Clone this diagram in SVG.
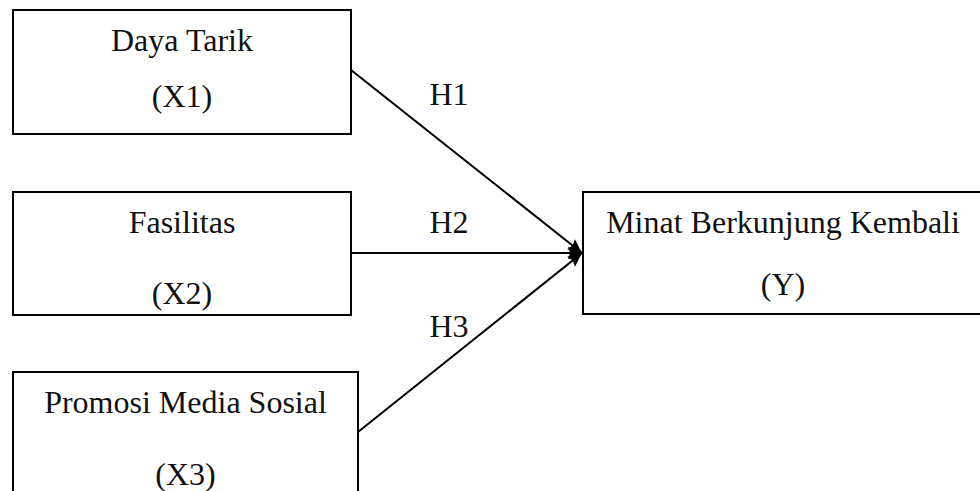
<svg xmlns="http://www.w3.org/2000/svg" width="980" height="491" viewBox="0 0 980 491">
<style>
.box{fill:#fff;stroke:#000;stroke-width:2}
.t{font-family:"Liberation Serif","Times New Roman",serif;font-size:32px;fill:#111;text-anchor:middle}
.lbl{font-family:"Liberation Serif","Times New Roman",serif;font-size:32px;fill:#111;text-anchor:middle}
.edge{stroke:#000;stroke-width:2;fill:none;marker-end:url(#ah)}
</style>
<defs>
<marker id="ah" viewBox="0 0 10 10" refX="10" refY="5" markerWidth="8" markerHeight="7" markerUnits="strokeWidth" orient="auto">
<path d="M0,0.5 L10,5 L0,9.5 L1.5,5 z" fill="#000"/>
</marker>
</defs>
<rect width="980" height="491" fill="#fff"/>
<g id="x1">
<rect class="box" x="13" y="10" width="338" height="124"/>
<text class="t" x="182" y="51">Daya Tarik</text>
<text class="t" x="182" y="107">(X1)</text>
</g>
<g id="x2">
<rect class="box" x="13" y="192" width="338" height="123"/>
<text class="t" x="182" y="233">Fasilitas</text>
<text class="t" x="182" y="304">(X2)</text>
</g>
<g id="x3">
<rect class="box" x="13" y="372" width="345" height="130"/>
<text class="t" x="185.5" y="413">Promosi Media Sosial</text>
<text class="t" x="185.5" y="485">(X3)</text>
</g>
<g id="y">
<rect class="box" x="583" y="192" width="400" height="122"/>
<text class="t" x="783" y="233">Minat Berkunjung Kembali</text>
<text class="t" x="783" y="295">(Y)</text>
</g>
<g id="connectors">
<line class="edge" x1="351" y1="70" x2="582" y2="253"/>
<line class="edge" x1="351" y1="253" x2="582" y2="253"/>
<line class="edge" x1="358" y1="432" x2="582" y2="253"/>
<text class="lbl" x="449" y="105">H1</text>
<text class="lbl" x="449" y="233">H2</text>
<text class="lbl" x="449" y="337">H3</text>
</g>
</svg>
